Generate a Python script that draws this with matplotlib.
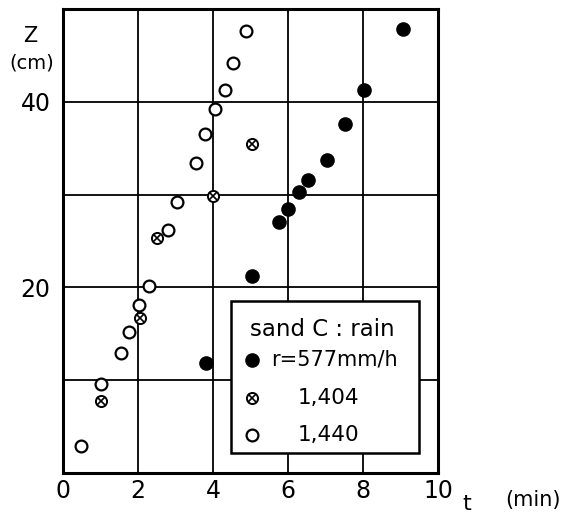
import matplotlib
matplotlib.use("Agg")
import matplotlib.pyplot as plt
from matplotlib.patches import Rectangle

# data (t in min, Z in cm)
t_577 = [3.80, 5.05, 5.77, 6.00, 6.28, 6.52, 7.04, 7.53, 8.02, 9.07]
z_577 = [11.9, 21.2, 27.0, 28.5, 30.3, 31.6, 33.7, 37.6, 41.3, 47.8]

t_1404 = [1.01, 2.05, 2.50, 4.01, 5.03]
z_1404 = [7.8, 16.7, 25.3, 29.9, 35.4]

t_1440 = [0.48, 1.00, 1.54, 1.77, 2.03, 2.29, 2.79, 3.03, 3.55, 3.79, 4.05, 4.32, 4.54, 4.88]
z_1440 = [2.9, 9.6, 12.9, 15.2, 18.1, 20.1, 26.2, 29.2, 33.4, 36.5, 39.2, 41.3, 44.2, 47.6]

x_ticks = [0, 2, 4, 6, 8, 10]
y_ticks = [20, 40]
x_grid = [2, 4, 6, 8]
y_grid = [10, 20, 30, 40]

legend_title = "sand C : rain"
legend_labels = ["r=577mm/h", "1,404", "1,440"]

plt.rcParams['font.family'] = ['DejaVu Sans']

fig = plt.figure(figsize=(5.62, 5.14), dpi=100)
ax = fig.add_axes([0.1121, 0.0798, 0.6673, 0.9027])
ax.set_xlim(0, 10)
ax.set_ylim(0, 50)

for g in x_grid:
    ax.axvline(g, color='black', lw=1.3, zorder=1)
for g in y_grid:
    ax.axhline(g, color='black', lw=1.3, zorder=1)

ax.set_xticks(x_ticks)
ax.set_xticklabels([str(v) for v in x_ticks])
ax.set_yticks(y_ticks)
ax.set_yticklabels([str(v) for v in y_ticks])
ax.tick_params(axis='x', length=0, labelsize=17, pad=4)
ax.tick_params(axis='y', length=0, labelsize=17, pad=9)
for s in ax.spines.values():
    s.set_linewidth(2.2)

ax.plot(t_577, z_577, 'o', ms=9.5, mfc='black', mec='black', zorder=3, clip_on=False)
ax.plot(t_1404, z_1404, 'o', ms=8, mfc='white', mec='black', mew=1.4, zorder=3)
ax.plot(t_1404, z_1404, 'x', ms=5.5, mec='black', mew=1.2, zorder=4)
ax.plot(t_1440, z_1440, 'o', ms=8.5, mfc='white', mec='black', mew=1.6, zorder=3)

# legend box
ax.add_patch(Rectangle((4.47, 2.2), 5.01, 16.3, facecolor='white', edgecolor='black', lw=1.8, zorder=5))
ax.text(4.99, 15.5, legend_title, fontsize=16.5, va='center', ha='left', zorder=6)
mx = 5.03
ax.plot([mx], [12.2], 'o', ms=9.5, mfc='black', mec='black', zorder=6)
ax.text(5.55, 12.2, legend_labels[0], fontsize=15, va='center', ha='left', zorder=6)
ax.plot([mx], [8.1], 'o', ms=8, mfc='white', mec='black', mew=1.4, zorder=6)
ax.plot([mx], [8.1], 'x', ms=5.5, mec='black', mew=1.2, zorder=7)
ax.text(6.27, 8.1, legend_labels[1], fontsize=15.5, va='center', ha='left', zorder=6)
ax.plot([mx], [4.1], 'o', ms=8.5, mfc='white', mec='black', mew=1.6, zorder=6)
ax.text(6.27, 4.1, legend_labels[2], fontsize=15.5, va='center', ha='left', zorder=6)

fig.text(30/562, 1 - 36/514, "Z", fontsize=15, ha='center', va='center')
fig.text(32/562, 1 - 63/514, "(cm)", fontsize=14, ha='center', va='center')
fig.text(467/562, 1 - 504/514, "t", fontsize=16, ha='center', va='center')
fig.text(533/562, 1 - 500/514, "(min)", fontsize=15, ha='center', va='center')

fig.savefig("out.png", dpi=100)
